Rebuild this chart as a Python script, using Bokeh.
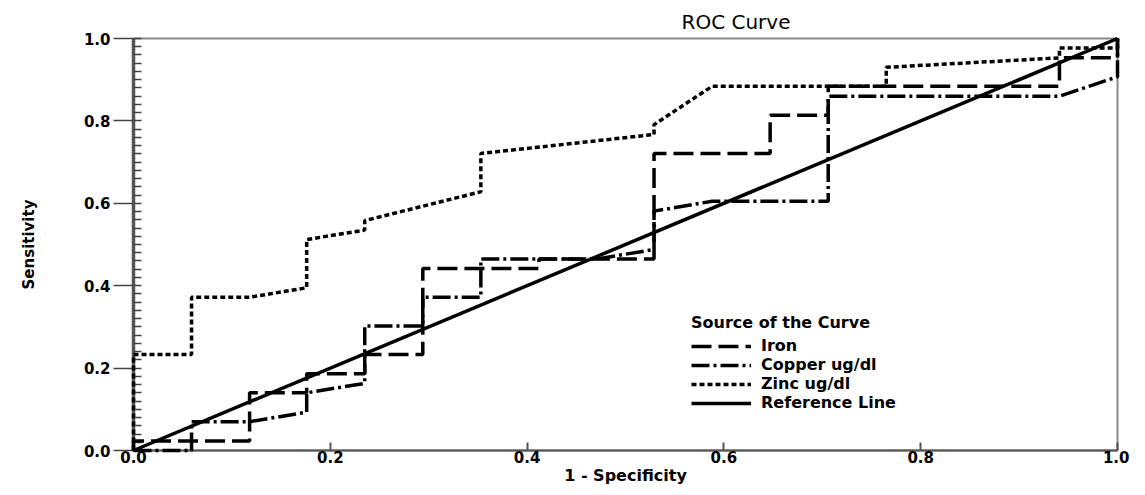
from bokeh.plotting import figure
from bokeh.models import Range1d, FixedTicker, Legend, LegendItem, NumeralTickFormatter
from bokeh.embed import file_html
from bokeh.resources import INLINE

# ---- data ----
x_ticks = [0.0, 0.2, 0.4, 0.6, 0.8, 1.0]
y_ticks = [0.0, 0.2, 0.4, 0.6, 0.8, 1.0]

iron_fpr = [0, 0, 0.118, 0.118, 0.176, 0.176, 0.235, 0.235, 0.294, 0.294, 0.412, 0.412,
            0.529, 0.529, 0.647, 0.647, 0.706, 0.706, 0.941, 0.941, 1.0, 1.0]
iron_tpr = [0, 0.023, 0.023, 0.140, 0.140, 0.186, 0.186, 0.233, 0.233, 0.442, 0.442, 0.465,
            0.465, 0.721, 0.721, 0.814, 0.814, 0.884, 0.884, 0.953, 0.953, 1.0]

copper_fpr = [0, 0.059, 0.059, 0.118, 0.176, 0.176, 0.235, 0.235, 0.294, 0.294, 0.353, 0.353,
              0.471, 0.529, 0.529, 0.588, 0.706, 0.706, 0.941, 1.0, 1.0]
copper_tpr = [0, 0, 0.070, 0.070, 0.093, 0.140, 0.163, 0.302, 0.302, 0.372, 0.372, 0.465,
              0.465, 0.488, 0.581, 0.605, 0.605, 0.860, 0.860, 0.907, 1.0]

zinc_fpr = [0, 0, 0.059, 0.059, 0.118, 0.176, 0.176, 0.235, 0.235, 0.353, 0.353, 0.529,
            0.529, 0.588, 0.765, 0.765, 0.941, 0.941, 1.0, 1.0]
zinc_tpr = [0, 0.233, 0.233, 0.372, 0.372, 0.395, 0.512, 0.535, 0.558, 0.628, 0.721, 0.767,
            0.791, 0.884, 0.884, 0.930, 0.953, 0.977, 0.977, 1.0]

ref_x = [0.0, 1.0]
ref_y = [0.0, 1.0]

labels = ["Iron", "Copper ug/dl", "Zinc ug/dl", "Reference Line"]

# ---- figure ----
p = figure(width=1129, height=487, x_range=Range1d(0, 1), y_range=Range1d(0, 1),
           output_backend="svg", toolbar_location=None,
           min_border_left=133, min_border_right=12, min_border_top=38, min_border_bottom=37)
p.background_fill_color = "white"
p.border_fill_color = "white"
p.grid.visible = False
p.outline_line_color = "#8a8a8a"
p.outline_line_width = 2

FONT = "DejaVu Sans"

p.title.text = "ROC Curve"
p.title.align = "left"
p.title.offset = 548
p.title.text_font = FONT
p.title.text_font_size = "20px"
p.title.text_font_style = "normal"
p.title.text_color = "black"

xa = p.xaxis[0]
xa.ticker = FixedTicker(ticks=x_ticks, minor_ticks=[])
xa.formatter = NumeralTickFormatter(format="0.0")
xa.axis_label = "1 - Specificity"
xa.axis_label_text_font = FONT
xa.axis_label_text_font_size = "16px"
xa.axis_label_text_font_style = "bold"
xa.axis_label_text_color = "black"
xa.axis_label_standoff = 0
xa.major_label_text_font = FONT
xa.major_label_text_font_size = "15px"
xa.major_label_text_font_style = "bold"
xa.major_label_text_color = "black"
xa.major_label_standoff = 0
xa.major_tick_in = 8
xa.major_tick_out = 0
xa.major_tick_line_color = "#555555"
xa.major_tick_line_width = 2
xa.axis_line_color = "#555555"
xa.axis_line_width = 2

ya = p.yaxis[0]
ya.ticker = FixedTicker(ticks=y_ticks,
                        minor_ticks=[round(i * 0.02, 2) for i in range(51)])
ya.formatter = NumeralTickFormatter(format="0.0")
ya.axis_label = "Sensitivity"
ya.axis_label_text_font = FONT
ya.axis_label_text_font_size = "15px"
ya.axis_label_text_font_style = "bold"
ya.axis_label_text_color = "black"
ya.axis_label_standoff = 43
ya.major_label_text_font = FONT
ya.major_label_text_font_size = "15px"
ya.major_label_text_font_style = "bold"
ya.major_label_text_color = "black"
ya.major_label_standoff = 3
ya.major_tick_in = 0
ya.major_tick_out = 20
ya.major_tick_line_color = "#444444"
ya.major_tick_line_width = 1.5
ya.minor_tick_in = 8
ya.minor_tick_out = 0
ya.minor_tick_line_color = "#444444"
ya.minor_tick_line_width = 1.5
ya.axis_line_color = "#555555"
ya.axis_line_width = 3.5

W = 3.5
r_iron = p.line(iron_fpr, iron_tpr, line_color="black", line_width=W, line_dash="20 7",
                level="overlay")
r_copper = p.line(copper_fpr, copper_tpr, line_color="black", line_width=W,
                  line_dash="18 4 3 4", level="overlay")
r_zinc = p.line(zinc_fpr, zinc_tpr, line_color="black", line_width=W, line_dash="5 3",
                level="overlay")
r_ref = p.line(ref_x, ref_y, line_color="black", line_width=W, level="overlay")

legend = Legend(items=[LegendItem(label=labels[0], renderers=[r_iron]),
                       LegendItem(label=labels[1], renderers=[r_copper]),
                       LegendItem(label=labels[2], renderers=[r_zinc]),
                       LegendItem(label=labels[3], renderers=[r_ref])],
                location=(558, 38), title="Source of the Curve")
legend.title_text_font = FONT
legend.title_text_font_size = "16px"
legend.title_text_font_style = "bold"
legend.title_text_color = "black"
legend.title_standoff = 4
legend.label_text_font = FONT
legend.label_text_font_size = "16px"
legend.label_text_font_style = "bold"
legend.label_text_color = "black"
legend.label_standoff = 10
legend.glyph_width = 60
legend.glyph_height = 16
legend.label_height = 16
legend.spacing = -1
legend.padding = 0
legend.margin = 0
legend.border_line_color = None
legend.background_fill_alpha = 0
p.add_layout(legend)

open("out.html", "w").write(file_html(p, INLINE))
